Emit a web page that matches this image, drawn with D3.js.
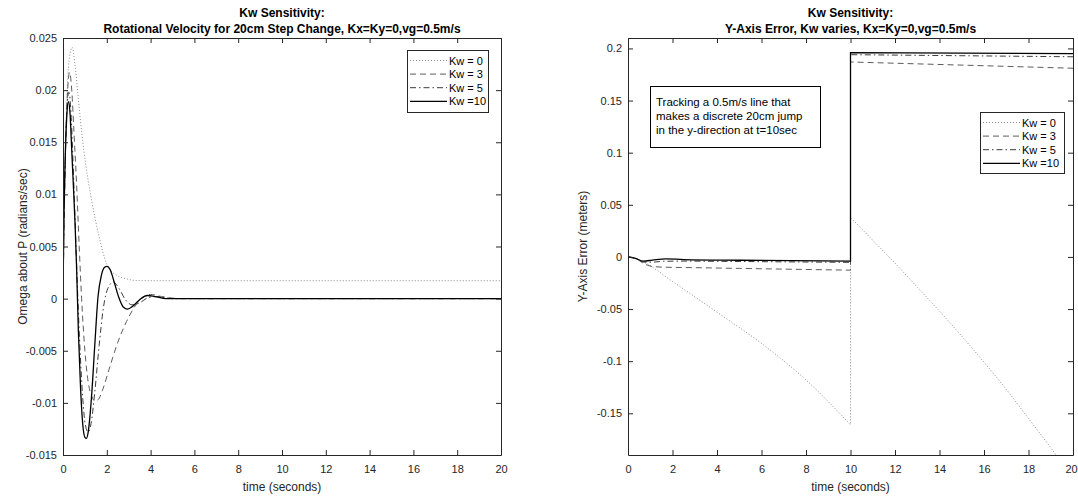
<!DOCTYPE html>
<html>
<head>
<meta charset="utf-8">
<script src="https://cdn.jsdelivr.net/npm/d3@7"></script>
<style>
  body { margin: 0; background: #fff; }
  svg { display: block; }
  text { font-family: "Liberation Sans", Arial, Helvetica, sans-serif; }
</style>
</head>
<body>
<svg id="fig" width="1078" height="496"></svg>
<script>
// ---- data ---------------------------------------------------------------
const legendLabels = ["Kw = 0", "Kw = 3", "Kw = 5", "Kw =10"];

const timeTicks  = [0, 2, 4, 6, 8, 10, 12, 14, 16, 18, 20];
const omegaTicks = [-0.015, -0.01, -0.005, 0, 0.005, 0.01, 0.015, 0.02, 0.025];
const errorTicks = [-0.15, -0.1, -0.05, 0, 0.05, 0.1, 0.15, 0.2];

// rotational velocity about P (rad/s) vs time (s)
const omegaKw0 = [[0,0],[0.05,0.0075],[0.12,0.015],[0.2,0.0203],[0.3,0.0232],[0.42,0.0241],
  [0.55,0.0224],[0.7,0.0192],[0.85,0.016],[1.05,0.0127],[1.3,0.0095],[1.6,0.0064],[2.0,0.0033],
  [2.4,0.0023],[2.9,0.0019],[3.4,0.00173],[4,0.00172],[20,0.00172]];
const omegaKw3 = [[0,0],[0.05,0.007],[0.12,0.0145],[0.2,0.0195],[0.3,0.0217],[0.4,0.0200],
  [0.5,0.0160],[0.62,0.0110],[0.74,0.0050],[0.85,0.0],[1.0,-0.0050],[1.15,-0.0080],[1.3,-0.0093],
  [1.45,-0.0098],[1.6,-0.0097],[1.8,-0.0088],[2.1,-0.0068],[2.5,-0.0042],[2.9,-0.0022],
  [3.3,-0.0007],[3.7,0.0002],[4.0,0.0004],[4.5,0.0002],[5.0,0.00005],[5.5,0],[20,0]];
const omegaKw5 = [[0,0],[0.04,0.0065],[0.1,0.013],[0.18,0.0183],[0.27,0.0198],[0.36,0.0180],
  [0.46,0.0130],[0.56,0.0070],[0.66,0.0010],[0.78,-0.0050],[0.9,-0.0095],[1.02,-0.0121],
  [1.15,-0.0128],[1.28,-0.0120],[1.45,-0.0090],[1.65,-0.0045],[1.85,-0.0008],[2.05,0.0010],
  [2.3,0.0016],[2.55,0.0010],[2.85,-0.0001],[3.15,-0.0006],[3.5,-0.0004],[3.9,0.0001],
  [4.3,0.0002],[5,0],[20,0]];
const omegaKw10 = [[0,0],[0.03,0.006],[0.09,0.0126],[0.17,0.0174],[0.25,0.0189],[0.32,0.0178],
  [0.4,0.0142],[0.47,0.011],[0.55,0.0072],[0.62,0.0030],[0.7,-0.0030],[0.8,-0.0085],
  [0.9,-0.0120],[1.0,-0.0133],[1.07,-0.0134],[1.15,-0.0128],[1.3,-0.0095],[1.45,-0.0045],
  [1.6,0.0002],[1.75,0.0022],[1.9,0.0030],[2.02,0.0031],[2.15,0.0028],[2.35,0.0015],
  [2.55,0.0001],[2.75,-0.0008],[2.95,-0.0010],[3.2,-0.0007],[3.5,-0.0001],[3.85,0.0003],
  [4.2,0.0002],[4.7,0],[20,0]];

// y-axis tracking error (m) vs time (s); the reference line jumps 20 cm at t = 10 s
const errorKw0 = [[0,0],[0.35,-0.0015],[0.7,-0.0048],[2,-0.0235],[4,-0.053],[6,-0.083],
  [8,-0.118],[10,-0.161],[10,0.038],[11,0.016],[12,-0.006],[13,-0.029],[14,-0.052],
  [15,-0.076],[16,-0.101],[17,-0.127],[18,-0.155],[19,-0.183],[19.5,-0.198]];
const errorKw3 = [[0,0],[0.35,-0.0015],[0.7,-0.0062],[1.1,-0.0092],[1.6,-0.0098],[3,-0.0103],
  [5,-0.0110],[7,-0.0117],[10,-0.0127],[10,0.187],[20,0.181]];
const errorKw5 = [[0,0],[0.35,-0.0015],[0.7,-0.0050],[1.1,-0.0050],[1.6,-0.0042],[2.5,-0.0040],
  [5,-0.0044],[10,-0.0052],[10,0.194],[20,0.192]];
const errorKw10 = [[0,0],[0.3,-0.0012],[0.7,-0.0040],[1.1,-0.0030],[1.7,-0.0018],[2.5,-0.0025],
  [5,-0.0032],[10,-0.0040],[10,0.196],[20,0.195]];

// ---- styling ------------------------------------------------------------
const lineStyles = [
  { stroke: "#8a8a8a", width: 1,   dash: "1,2" },
  { stroke: "#5c5c5c", width: 1,   dash: "6,4" },
  { stroke: "#3c3c3c", width: 1,   dash: "6,3,1.5,3" },
  { stroke: "#000000", width: 1.3, dash: null }
];
const axisColor = "#262626";
const fmt = d => d === 0 ? "0" : String(+d.toFixed(3));

const svg = d3.select("#fig");

// splits a series wherever time repeats, so jumps render as vertical segments
function pathFor(series, line) {
  const segs = [];
  let cur = [];
  series.forEach((p, i) => {
    if (i > 0 && p[0] === series[i - 1][0]) { segs.push(cur); cur = []; }
    cur.push(p);
  });
  segs.push(cur);
  return segs.map((s, i) => i ? line(s).replace(/^M/, "L") : line(s)).join("");
}

function styleAxis(g) {
  g.select(".domain").attr("stroke", axisColor).attr("stroke-width", 1);
  g.selectAll(".tick line").attr("stroke", axisColor).attr("stroke-width", 1);
  g.selectAll(".tick text").attr("fill", axisColor).attr("font-size", 11)
    .attr("font-family", "'Liberation Sans', Arial, sans-serif");
}

function panel(cfg) {
  const x = d3.scaleLinear().domain([0, 20]).range([cfg.left, cfg.right]);
  const y = d3.scaleLinear().domain(cfg.yDomain).range([cfg.bottom, cfg.top]);
  const g = svg.append("g");

  g.append("rect").attr("x", cfg.left).attr("y", cfg.top)
    .attr("width", cfg.right - cfg.left).attr("height", cfg.bottom - cfg.top).attr("fill", "#fff");

  g.append("clipPath").attr("id", cfg.id).append("rect")
    .attr("x", cfg.left).attr("y", cfg.top)
    .attr("width", cfg.right - cfg.left).attr("height", cfg.bottom - cfg.top);

  const line = d3.line().x(d => x(d[0])).y(d => y(d[1])).curve(d3.curveMonotoneX);
  const plot = g.append("g").attr("clip-path", `url(#${cfg.id})`);
  cfg.series.forEach((s, i) => {
    const st = lineStyles[i];
    plot.append("path").attr("d", pathFor(s, line)).attr("fill", "none")
      .attr("stroke", st.stroke).attr("stroke-width", st.width)
      .attr("stroke-dasharray", st.dash);
  });

  // axes with inward ticks on all four sides
  const xAxis = g.append("g").attr("transform", `translate(0,${cfg.bottom})`)
    .call(d3.axisBottom(x).tickValues(timeTicks).tickFormat(fmt).tickSize(-5).tickSizeOuter(0).tickPadding(10))
    .call(styleAxis);
  if (cfg.nudgeLastTick) {
    // keep the last label inside the page edge
    xAxis.selectAll(".tick text").filter(d => d === 20).attr("dx", -2);
  }
  g.append("g").attr("transform", `translate(0,${cfg.top})`)
    .call(d3.axisTop(x).tickValues(timeTicks).tickFormat("").tickSize(-5).tickSizeOuter(0))
    .call(styleAxis);
  g.append("g").attr("transform", `translate(${cfg.left},0)`)
    .call(d3.axisLeft(y).tickValues(cfg.yTicks).tickFormat(fmt).tickSize(-5).tickSizeOuter(0).tickPadding(6))
    .call(styleAxis);
  g.append("g").attr("transform", `translate(${cfg.right},0)`)
    .call(d3.axisRight(y).tickValues(cfg.yTicks).tickFormat("").tickSize(-5).tickSizeOuter(0))
    .call(styleAxis);

  const cx = (cfg.left + cfg.right) / 2;
  const cy = (cfg.top + cfg.bottom) / 2;

  // title
  cfg.title.forEach((t, i) => {
    g.append("text").attr("x", cx).attr("y", 17 + i * 16).attr("text-anchor", "middle")
      .attr("font-size", 12).attr("font-weight", "bold").attr("fill", "#000").text(t);
  });

  // axis labels
  g.append("text").attr("x", cx).attr("y", 491).attr("text-anchor", "middle")
    .attr("font-size", 12).attr("fill", axisColor).text("time (seconds)");
  g.append("text").attr("transform", `translate(${cfg.ylabelX},${cy}) rotate(-90)`)
    .attr("text-anchor", "middle").attr("font-size", 12).attr("fill", axisColor).text(cfg.ylabel);

  // legend
  const L = cfg.legend;
  const lg = g.append("g");
  lg.append("rect").attr("x", L.x + 0.5).attr("y", L.y + 0.5).attr("width", L.w).attr("height", L.h)
    .attr("fill", "#fff").attr("stroke", axisColor).attr("stroke-width", 1);
  legendLabels.forEach((lab, i) => {
    const ry = L.y + 10.5 + i * 13.6;
    const st = lineStyles[i];
    lg.append("line").attr("x1", L.x + 3).attr("x2", L.x + 40).attr("y1", ry).attr("y2", ry)
      .attr("stroke", st.stroke).attr("stroke-width", st.width).attr("stroke-dasharray", st.dash);
    lg.append("text").attr("x", L.x + 42).attr("y", ry + 4).attr("font-size", 11)
      .attr("fill", "#000").text(lab);
  });
  return g;
}

panel({
  id: "clipOmega", left: 63, right: 501, top: 38, bottom: 455,
  yDomain: [-0.015, 0.025], yTicks: omegaTicks,
  title: ["Kw Sensitivity:", "Rotational Velocity for 20cm Step Change, Kx=Ky=0,vg=0.5m/s"],
  ylabel: "Omega about P (radians/sec)", ylabelX: 27,
  series: [omegaKw0, omegaKw3, omegaKw5, omegaKw10],
  legend: { x: 407, y: 50, w: 81, h: 62 }
});

const right = panel({
  id: "clipError", left: 628, right: 1073, top: 38, bottom: 455,
  yDomain: [-0.19, 0.21], yTicks: errorTicks,
  title: ["Kw Sensitivity:", "Y-Axis Error, Kw varies, Kx=Ky=0,vg=0.5m/s"],
  ylabel: "Y-Axis Error (meters)", ylabelX: 587,
  series: [errorKw0, errorKw3, errorKw5, errorKw10],
  legend: { x: 980, y: 112, w: 84, h: 61 },
  nudgeLastTick: true
});

// annotation describing the manoeuvre
const note = ["Tracking a 0.5m/s line that", "makes a discrete 20cm jump", "in the y-direction at t=10sec"];
right.append("rect").attr("x", 650.5).attr("y", 86.5).attr("width", 170).attr("height", 61)
  .attr("fill", "#fff").attr("stroke", "#000").attr("stroke-width", 1);
note.forEach((t, i) => {
  right.append("text").attr("x", 656).attr("y", 106 + i * 14).attr("font-size", 11.5)
    .attr("fill", "#000").text(t);
});
</script>
</body>
</html>
